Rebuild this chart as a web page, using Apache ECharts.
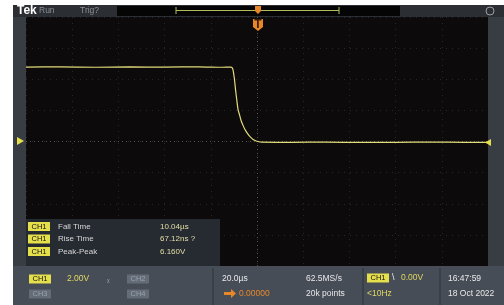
<!DOCTYPE html>
<html>
<head>
<meta charset="utf-8">
<script src="https://cdn.jsdelivr.net/npm/echarts@6/dist/echarts.min.js"></script>
<style>
html,body{margin:0;padding:0;background:#fff;}
#item1{width:504px;height:305px;}
</style>
</head>
<body>
<div id="item1"></div>
<script>
// 波形数据 (时间 µs, 电压 V)
var timeUs=[-100,-85,-70,-55,-40,-25,-15,-11.4,-10.8,-10.4,-9.8,-9.3,-8.7,-8.2,-7.5,-6.9,-6.0,-5.2,-4.3,-3.5,-2.6,-1.7,-0.6,0.4,2,15,30,45,60,75,90,100];
var volts=[4.78,4.80,4.77,4.79,4.78,4.80,4.77,4.78,4.75,4.62,4.05,3.35,2.60,2.05,1.68,1.35,1.02,0.77,0.55,0.39,0.25,0.13,0.05,0.0,-0.04,-0.05,-0.04,-0.06,-0.05,-0.04,-0.05,-0.05];
var xTicks=[-100,-80,-60,-40,-20,0,20,40,60,80,100];
var yTicks=[-8,-6,-4,-2,0,2,4,6,8];
// 测量结果
var measNames=['Fall Time','Rise Time','Peak-Peak'];
var measValues=['10.04\u00b5s','67.12ns ?','6.160V'];

var wave=[];
for(var i=0;i<timeUs.length;i++){wave.push([timeUs[i],volts[i]]);}

var font='"Liberation Sans",sans-serif';
var g=[];
function rect(x,y,w,h,c,z){g.push({type:'rect',shape:{x:x,y:y,width:w,height:h},style:{fill:c},z:z||1,silent:true});}
function txt(x,y,s,c,size,extra){var o={type:'text',x:x,y:y,style:{text:s,fill:c,font:(size||8)+'px '+font,verticalAlign:'middle'},z:20,silent:true};if(extra){for(var k in extra)o.style[k]=extra[k];}g.push(o);}
function badge(x,y,s,on){rect(x,y-4.5,22,9,on?'#e6df4c':'#646c78',15);txt(x+11,y,s,on?'#111':'#9aa2ae',7.5,{align:'center'});}

// 外框
rect(13,5,491,12,'#2b2e32',0);
rect(13,17,13,249,'#383d44',0);
rect(488,17,16,249,'#383d44',0);
rect(13,266,491,39,'#464d57',0);
// 顶部栏
txt(17,11,'Tek','#fff',8.5,{fontWeight:'bold'});
txt(39,11,'Run','#8a8f96',8.5);
txt(80,11,'Trig?','#8a8f96',8.5);
rect(117,6,283,10,'#050505',2);
g.push({type:'line',shape:{x1:176,y1:10.5,x2:339,y2:10.5},style:{stroke:'#b3bd5c',lineWidth:1},z:3,silent:true});
g.push({type:'line',shape:{x1:176,y1:7,x2:176,y2:14},style:{stroke:'#b3bd5c',lineWidth:1},z:3,silent:true});
g.push({type:'line',shape:{x1:339,y1:7,x2:339,y2:14},style:{stroke:'#b3bd5c',lineWidth:1},z:3,silent:true});
g.push({type:'polygon',shape:{points:[[255,6],[261,6],[261,11],[258,14],[255,11]]},style:{fill:'#e8872a'},z:4,silent:true});
g.push({type:'circle',shape:{cx:490,cy:11,r:4},style:{fill:'none',stroke:'#9aa0a8',lineWidth:1},z:4,silent:true});
// 触发标记
g.push({type:'polygon',shape:{points:[[253,19],[263,19],[263,27],[258,31],[253,27]]},style:{fill:'#e8872a'},z:10,silent:true});
txt(258,24.5,'T','#3a1a00',7,{align:'center',fontWeight:'bold'});
g.push({type:'polygon',shape:{points:[[17,137],[24,141],[17,145]]},style:{fill:'#e6df4c'},z:10,silent:true});
g.push({type:'polygon',shape:{points:[[491,139],[485,142.5],[491,146]]},style:{fill:'#e6df4c'},z:10,silent:true});
// 测量框
rect(26,219,194,47,'#262b31',5);
for(var m=0;m<measNames.length;m++){
    var yy=226.5+m*12.5;
    badge(28,yy,'CH1',true);
    txt(58,yy,measNames[m],'#d6d6d6',8);
    txt(160,yy,measValues[m],'#e4dfa6',8);
}
// 底部信息栏
[213,363,440].forEach(function(x){g.push({type:'line',shape:{x1:x,y1:268,x2:x,y2:305},style:{stroke:'#2e343b',lineWidth:1},z:2,silent:true});});
badge(29,279,'CH1',true);
txt(67,279,'2.00V','#e0d860',8.5);
txt(107,280,'\u2093','#9aa2ae',8);
badge(127,279,'CH2',false);
badge(29,294,'CH3',false);
badge(127,294,'CH4',false);
txt(222,279,'20.0\u00b5s','#e8e8e8',8.5);
g.push({type:'polygon',shape:{points:[[224,292],[231,292],[231,289],[236,293.5],[231,298],[231,295],[224,295]]},style:{fill:'#e8872a'},z:15,silent:true});
txt(239,294,'0.00000','#e8872a',8.5);
txt(306,279,'62.5MS/s','#e8e8e8',8.5);
txt(306,294,'20k points','#e8e8e8',8.5);
badge(367,278,'CH1',true);
txt(392,278,'\\','#e8e8e8',9);
txt(401,278,'0.00V','#e0d860',8.5);
txt(367,294,'<10Hz','#e0d860',8.5);
txt(448,279,'16:47:59','#e8e8e8',8.5);
txt(448,294,'18 Oct 2022','#e8e8e8',8.5);

var mycharts1=echarts.init(document.getElementById('item1'));
var option1={
    backgroundColor:'#fff',
    animation:false,
    grid:{left:26,right:16,top:17,bottom:39,show:true,backgroundColor:'#0c0a0a',borderWidth:0},
    xAxis:{
        type:'value',min:xTicks[0],max:xTicks[xTicks.length-1],interval:20,
        axisLine:{show:false},axisTick:{show:false},axisLabel:{show:false},
        splitLine:{show:true,lineStyle:{color:'#2a2727',type:[1,5],width:1}}
    },
    yAxis:{
        type:'value',min:yTicks[0],max:yTicks[yTicks.length-1],interval:2,
        axisLine:{show:false},axisTick:{show:false},axisLabel:{show:false},
        splitLine:{show:true,lineStyle:{color:'#2a2727',type:[1,5],width:1}}
    },
    series:[{
        name:'CH1',
        type:'line',
        data:wave,
        showSymbol:false,
        smooth:0.2,
        lineStyle:{color:'#e2dc7a',width:1.2},
        z:5,
        markLine:{
            silent:true,symbol:'none',label:{show:false},
            lineStyle:{color:'#55534f',type:[1,3],width:1},
            data:[{xAxis:0},{yAxis:0}]
        }
    }],
    graphic:g
};
mycharts1.setOption(option1);
</script>
</body>
</html>
